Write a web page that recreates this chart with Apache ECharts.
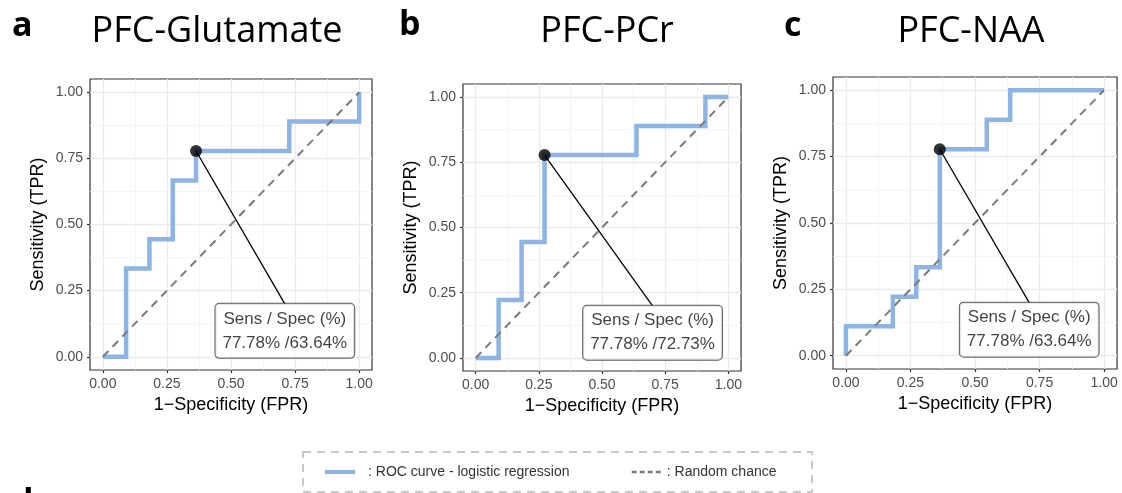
<!DOCTYPE html>
<html>
<head>
<meta charset="utf-8">
<script src="https://cdn.jsdelivr.net/npm/echarts@6/dist/echarts.min.js"></script>
<style>
html,body{margin:0;padding:0;background:#fff;}
#chart{width:1122px;height:493px;}
</style>
</head>
<body>
<div id="chart"></div>
<script>
// ---------- data ----------
const panelTitles = ['PFC-Glutamate', 'PFC-PCr', 'PFC-NAA'];
const panelLetters = ['a', 'b', 'c'];
const tickValues = [0, 0.25, 0.5, 0.75, 1];
const minorTickValues = [0.125, 0.375, 0.625, 0.875];
const xAxisTitle = '1\u2212Specificity (FPR)';
const yAxisTitle = 'Sensitivity (TPR)';
const rocName = 'ROC curve - logistic regression';
const chanceName = 'Random chance';

// ROC curves (FPR, TPR)
const rocA_fpr = [0, 0.0909, 0.0909, 0.1818, 0.1818, 0.2727, 0.2727, 0.3636, 0.3636, 0.7273, 0.7273, 1, 1];
const rocA_tpr = [0, 0, 0.3333, 0.3333, 0.4444, 0.4444, 0.6667, 0.6667, 0.7778, 0.7778, 0.8889, 0.8889, 1];
const rocB_fpr = [0, 0.0909, 0.0909, 0.1818, 0.1818, 0.2727, 0.2727, 0.6364, 0.6364, 0.9091, 0.9091, 1];
const rocB_tpr = [0, 0, 0.2222, 0.2222, 0.4444, 0.4444, 0.7778, 0.7778, 0.8889, 0.8889, 1, 1];
const rocC_fpr = [0, 0, 0.1818, 0.1818, 0.2727, 0.2727, 0.3636, 0.3636, 0.5455, 0.5455, 0.6364, 0.6364, 1];
const rocC_tpr = [0, 0.1111, 0.1111, 0.2222, 0.2222, 0.3333, 0.3333, 0.7778, 0.7778, 0.8889, 0.8889, 1, 1];
const chance_fpr = [0, 1];
const chance_tpr = [0, 1];

// optimal cut-off points
const optFpr = [0.3636, 0.2727, 0.3636];
const optTpr = [0.7778, 0.7778, 0.7778];
const sensValues = ['77.78%', '77.78%', '77.78%'];
const specValues = ['63.64%', '72.73%', '63.64%'];
const labelHeader = 'Sens / Spec (%)';
// label anchor (top centre of the label box) in data units
const labelX = [0.71, 0.70, 0.71];
const labelY = [0.20, 0.20, 0.20];

// ---------- layout ----------
const grids = [
  {left: 90, right: 750, top: 79, bottom: 123},
  {left: 463, right: 381, top: 84, bottom: 122},
  {left: 833, right: 5, top: 77, bottom: 124}
];
const titleCenters = [217, 607, 971];
const letterX = [12, 399, 784];
const letterY = [9, 8, 9];

const rocX = [rocA_fpr, rocB_fpr, rocC_fpr];
const rocY = [rocA_tpr, rocB_tpr, rocC_tpr];
const zip = (a, b) => a.map((v, i) => [v, b[i]]);

const BLUE = '#8db4e2';
const FONT = '"Liberation Sans", Arial, sans-serif';

const xAxes = [], yAxes = [], series = [], graphics = [];
grids.forEach((g, i) => {
  g.show = true; g.borderColor = '#333'; g.borderWidth = 1.2; g.backgroundColor = '#fff';
  g.containLabel = false;
  const common = {type: 'value', gridIndex: i, min: -0.05, max: 1.05, offset: 0};
  // minor grid axes
  xAxes.push(Object.assign({}, common, {
    position: 'bottom',
    axisLine: {show: false, onZero: false}, axisLabel: {show: false, customValues: minorTickValues},
    axisTick: {show: false, customValues: minorTickValues},
    splitLine: {show: true, lineStyle: {color: '#f3f3f3', width: 0.8}}
  }));
  yAxes.push(Object.assign({}, common, {
    position: 'left',
    axisLine: {show: false, onZero: false}, axisLabel: {show: false, customValues: minorTickValues},
    axisTick: {show: false, customValues: minorTickValues},
    splitLine: {show: true, lineStyle: {color: '#f3f3f3', width: 0.8}}
  }));
  // major axes
  xAxes.push(Object.assign({}, common, {
    position: 'bottom',
    name: xAxisTitle, nameLocation: 'middle', nameGap: 25,
    nameTextStyle: {fontSize: 18, color: '#000', fontFamily: FONT},
    axisLine: {show: false, onZero: false},
    axisTick: {show: true, customValues: tickValues, length: 3, lineStyle: {color: '#333', width: 1.2}},
    axisLabel: {customValues: tickValues, formatter: v => v.toFixed(2), fontSize: 14, color: '#4d4d4d', margin: 7, fontFamily: FONT},
    splitLine: {show: true, lineStyle: {color: '#ebebeb', width: 1.3}}
  }));
  yAxes.push(Object.assign({}, common, {
    position: 'left',
    name: yAxisTitle, nameLocation: 'middle', nameGap: 43,
    nameTextStyle: {fontSize: 18, color: '#000', fontFamily: FONT},
    axisLine: {show: false, onZero: false},
    axisTick: {show: true, customValues: tickValues, length: 3, lineStyle: {color: '#333', width: 1.2}},
    axisLabel: {customValues: tickValues, formatter: v => v.toFixed(2), fontSize: 14, color: '#4d4d4d', margin: 7, fontFamily: FONT},
    splitLine: {show: true, lineStyle: {color: '#ebebeb', width: 1.3}}
  }));
  const xi = 2 * i + 1, yi = 2 * i + 1;
  series.push({
    name: rocName, type: 'line', xAxisIndex: xi, yAxisIndex: yi,
    data: zip(rocX[i], rocY[i]), symbol: 'none', silent: true, z: 3,
    lineStyle: {color: BLUE, width: 4.5, join: 'miter', cap: 'butt'}, itemStyle: {color: BLUE}
  });
  series.push({
    name: chanceName, type: 'line', xAxisIndex: xi, yAxisIndex: yi,
    data: zip(chance_fpr, chance_tpr), symbol: 'none', silent: true, z: 4,
    lineStyle: {color: '#7a7a7a', width: 2, type: [8, 6]}, itemStyle: {color: '#7a7a7a'}
  });
  series.push({
    name: 'connector', type: 'line', xAxisIndex: xi, yAxisIndex: yi,
    data: [[optFpr[i], optTpr[i]], [labelX[i], labelY[i]]], symbol: 'none', silent: true, z: 5,
    lineStyle: {color: '#000', width: 1.3}
  });
  series.push({
    name: 'optimal', type: 'scatter', xAxisIndex: xi, yAxisIndex: yi,
    data: [[optFpr[i], optTpr[i]]], symbolSize: 12, silent: true, z: 6,
    itemStyle: {color: '#000'}
  });
  series.push({
    name: 'label', type: 'scatter', xAxisIndex: xi, yAxisIndex: yi,
    data: [[labelX[i], labelY[i]]], symbolSize: 0, silent: true, z: 7,
    label: {
      show: true, position: 'bottom', distance: 0,
      formatter: labelHeader + '\n' + sensValues[i] + ' /' + specValues[i],
      backgroundColor: '#fff', borderColor: '#333', borderWidth: 1, borderRadius: 4,
      padding: [3, 7, 3, 7], fontSize: 17, lineHeight: 24, color: '#111', fontFamily: FONT,
      align: 'center'
    }
  });
  graphics.push({
    type: 'text', x: titleCenters[i], y: 14, z: 10,
    style: {text: panelTitles[i], fontSize: 36, fontFamily: '"Open Sans", sans-serif', fill: '#000', textAlign: 'center', textVerticalAlign: 'top'}
  });
  graphics.push({
    type: 'text', x: letterX[i], y: letterY[i], z: 10,
    style: {text: panelLetters[i], fontSize: 34, fontWeight: 'bold', fontFamily: '"Open Sans", sans-serif', fill: '#000', textVerticalAlign: 'top'}
  });
});

// legend frame and partially visible next panel letter
graphics.push({
  type: 'rect', z: 1, shape: {x: 303, y: 452, width: 509, height: 40},
  style: {fill: 'none', stroke: '#c8c8c8', lineWidth: 2, lineDash: [8, 6]}
});
graphics.push({
  type: 'text', x: 12, y: 486, z: 10,
  style: {text: 'd', fontSize: 34, fontWeight: 'bold', fontFamily: '"Open Sans", sans-serif', fill: '#000', textVerticalAlign: 'top'}
});

const chart = echarts.init(document.getElementById('chart'), null, {renderer: 'canvas'});
chart.setOption({
  animation: false,
  backgroundColor: '#fff',
  textStyle: {fontFamily: FONT},
  grid: grids,
  xAxis: xAxes,
  yAxis: yAxes,
  legend: {
    data: [
      {name: rocName, lineStyle: {width: 4}, itemStyle: {opacity: 0},
       textStyle: {padding: [0, 0, 0, 8]}},
      {name: chanceName, lineStyle: {width: 2.5, type: [5, 3]}, itemStyle: {opacity: 0},
       textStyle: {padding: [0, 0, 0, 0]}}
    ],
    left: 323, top: 465, padding: 0, itemWidth: 30, itemHeight: 14, itemGap: 61,
    formatter: n => ': ' + n,
    textStyle: {fontSize: 14, color: '#333', fontFamily: FONT}
  },
  graphic: graphics,
  series: series
});
</script>
</body>
</html>
